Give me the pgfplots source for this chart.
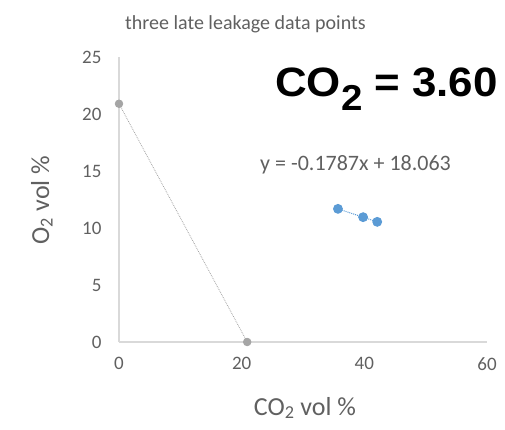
\documentclass[border=0pt]{standalone}
\usepackage{pgfplots}
\pgfplotsset{compat=1.18}
\usepackage{fontspec}
\setmainfont{Carlito}
\newfontfamily\arialb{Liberation Sans}
\definecolor{axgray}{RGB}{217,217,217}
\definecolor{txtgray}{RGB}{96,96,96}
\definecolor{ptgray}{RGB}{165,165,165}
\definecolor{ptblue}{RGB}{91,155,213}
\begin{document}
\begin{tikzpicture}[x=1pt,y=1pt]
\useasboundingbox (0,0) rectangle (505,429);
\begin{axis}[
  at={(119pt,87pt)}, anchor=south west,
  scale only axis, width=368pt, height=285pt,
  xmin=0, xmax=60, ymin=0, ymax=25,
  xtick={0,20,40,60}, ytick={0,5,10,15,20,25},
  axis x line*=bottom, axis y line*=left,
  axis line style={axgray, line width=1.2pt, -},
  major tick length=0pt,
  tick style={draw=none},
  /pgf/number format/assume math mode=true,
  ticklabel style={font=\fontsize{19}{19}\selectfont, text=txtgray},
  xticklabel style={yshift=-12pt},
  yticklabel style={xshift=-14pt},
  clip=false,
]
\addplot[ptgray, densely dotted, line width=0.8pt, mark=*, mark size=3.8pt,
  mark options={solid, fill=ptgray, draw=ptgray}] coordinates {(0,20.9) (20.9,0)};
\addplot[ptblue, densely dotted, line width=1pt, mark=*, mark size=4.4pt,
  mark options={solid, fill=ptblue, draw=ptblue}] coordinates {(35.7,11.68) (39.8,10.95) (42.1,10.54)};
\end{axis}
\node[anchor=base west, text=txtgray, inner sep=0, font=\fontsize{20}{20}\selectfont] at (125,399) {three late leakage data points};
\node[anchor=base west, inner sep=0, font=\arialb\bfseries\fontsize{41}{41}\selectfont] at (275,332) {\scalebox{1.07}[1]{CO\raisebox{-0.34em}{\fontsize{36}{36}\selectfont 2} = 3.60}};
\node[anchor=base west, inner sep=0, text=txtgray, font=\fontsize{22}{22}\selectfont] at (260,259) {y = -0.1787x + 18.063};
\node[anchor=base, inner sep=0, text=txtgray, font=\fontsize{26}{26}\selectfont] at (305,14) {CO\textsubscript{2} vol \%};
\node[anchor=base, inner sep=0, text=txtgray, rotate=90, font=\fontsize{26}{26}\selectfont] at (49,229) {O\textsubscript{2} vol \%};
\end{tikzpicture}
\end{document}
